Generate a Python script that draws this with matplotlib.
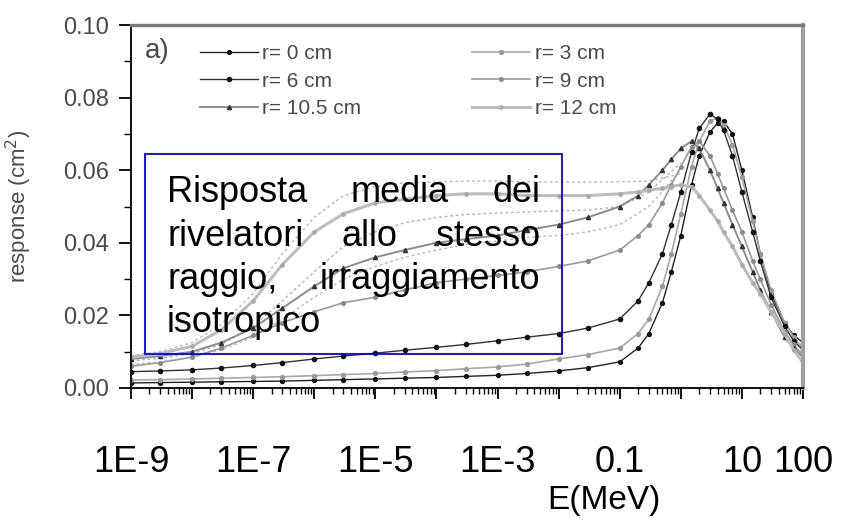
import matplotlib
matplotlib.use("Agg")
import matplotlib.pyplot as plt
from matplotlib.patches import Rectangle
from matplotlib.ticker import LogLocator, NullFormatter, MultipleLocator, FormatStrFormatter

# ---------------- data ----------------
energy = [1e-9, 3e-9, 1e-8, 3e-8, 1e-7, 3e-7, 1e-6, 3e-6, 1e-5, 3e-5, 1e-4, 3e-4,
          1e-3, 3e-3, 1e-2, 3e-2, 0.1, 0.2, 0.3, 0.5, 0.7, 1, 1.5, 2, 3, 4, 5, 7,
          10, 15, 20, 30, 50, 70, 100]

r0 = [0.0014, 0.0015, 0.0016, 0.0017, 0.0018, 0.0019, 0.0021, 0.0023, 0.0025, 0.0027, 0.0029, 0.0032,
      0.0035, 0.0040, 0.0047, 0.0056, 0.0072, 0.0110, 0.0150, 0.0235, 0.0320, 0.0420, 0.0560, 0.0640,
      0.0705, 0.0730, 0.0735, 0.0700, 0.0600, 0.0470, 0.0370, 0.0260, 0.0180, 0.0145, 0.0125]
r3 = [0.0022, 0.0023, 0.0025, 0.0027, 0.0029, 0.0031, 0.0034, 0.0037, 0.0040, 0.0044, 0.0048, 0.0053,
      0.0058, 0.0066, 0.0080, 0.0092, 0.0110, 0.0150, 0.0190, 0.0280, 0.0370, 0.0480, 0.0610, 0.0680,
      0.0735, 0.0745, 0.0725, 0.0670, 0.0580, 0.0460, 0.0370, 0.0270, 0.0180, 0.0140, 0.0110]
r6 = [0.0045, 0.0047, 0.0050, 0.0055, 0.0062, 0.0070, 0.0080, 0.0088, 0.0096, 0.0104, 0.0112, 0.0120,
      0.0130, 0.0140, 0.0150, 0.0165, 0.0190, 0.0240, 0.0290, 0.0370, 0.0450, 0.0540, 0.0650, 0.0715,
      0.0755, 0.0740, 0.0710, 0.0640, 0.0540, 0.0430, 0.0350, 0.0250, 0.0170, 0.0130, 0.0105]
r9 = [0.0060, 0.0070, 0.0085, 0.0110, 0.0145, 0.0180, 0.0210, 0.0235, 0.0250, 0.0270, 0.0290, 0.0300,
      0.0310, 0.0320, 0.0335, 0.0350, 0.0380, 0.0420, 0.0450, 0.0510, 0.0560, 0.0610, 0.0665, 0.0680,
      0.0640, 0.0590, 0.0550, 0.0490, 0.0430, 0.0350, 0.0300, 0.0230, 0.0155, 0.0120, 0.0090]
r105 = [0.0080, 0.0088, 0.0100, 0.0125, 0.0165, 0.0220, 0.0280, 0.0330, 0.0360, 0.0380, 0.0400, 0.0410,
        0.0420, 0.0435, 0.0450, 0.0470, 0.0500, 0.0530, 0.0560, 0.0600, 0.0630, 0.0660, 0.0680, 0.0660,
        0.0600, 0.0550, 0.0510, 0.0450, 0.0390, 0.0320, 0.0270, 0.0210, 0.0140, 0.0110, 0.0085]
r12 = [0.0085, 0.0095, 0.0115, 0.0160, 0.0240, 0.0340, 0.0430, 0.0480, 0.0510, 0.0520, 0.0530, 0.0535,
       0.0535, 0.0530, 0.0530, 0.0530, 0.0535, 0.0540, 0.0545, 0.0550, 0.0555, 0.0560, 0.0555, 0.0530,
       0.0490, 0.0460, 0.0430, 0.0390, 0.0340, 0.0290, 0.0260, 0.0210, 0.0150, 0.0105, 0.0070]

# faint dotted companion curves (no legend entry)
band_energy = [1e-9, 3e-9, 1e-8, 3e-8, 1e-7, 3e-7, 1e-6, 3e-6, 1e-5, 3e-5, 1e-4, 3e-4,
               1e-3, 3e-3, 1e-2, 3e-2, 0.1, 0.3, 1]
band_a = [0.0090, 0.0100, 0.0125, 0.0175, 0.0260, 0.0370, 0.0470, 0.0530, 0.0555, 0.0565, 0.0568, 0.0570,
          0.0570, 0.0568, 0.0567, 0.0567, 0.0568, 0.0570, 0.0590]
band_b = [0.0075, 0.0082, 0.0095, 0.0120, 0.0170, 0.0240, 0.0320, 0.0390, 0.0430, 0.0455, 0.0470, 0.0478,
          0.0482, 0.0485, 0.0488, 0.0490, 0.0500, 0.0540, 0.0620]
band_c = [0.0065, 0.0072, 0.0085, 0.0105, 0.0140, 0.0190, 0.0250, 0.0300, 0.0335, 0.0360, 0.0380, 0.0395,
          0.0405, 0.0415, 0.0420, 0.0430, 0.0450, 0.0500, 0.0600]

series_labels = ["r= 0 cm", "r= 3 cm", "r= 6 cm", "r= 9 cm", "r= 10.5 cm", "r= 12 cm"]

decade_ticks = [1e-9, 1e-8, 1e-7, 1e-6, 1e-5, 1e-4, 1e-3, 1e-2, 1e-1, 1, 10, 100]
decade_labels = ["1E-9", "", "1E-7", "", "1E-5", "", "1E-3", "", "0.1", "", "10", "100"]

box_lines = [["Risposta", "media", "dei"],
             ["rivelatori", "allo", "stesso"],
             ["raggio,", "irraggiamento"],
             ["isotropico"]]

# ---------------- figure ----------------
W, H = 846, 521
fig = plt.figure(figsize=(W / 100, H / 100), dpi=100)
ax = fig.add_axes([131 / W, 1 - 388 / H, 672 / W, 363 / H])

grey_txt = "#4a4a4a"

for x, y, c in [(band_energy, band_a, "#b8b8b8"), (band_energy, band_b, "#b0b0b0"), (band_energy, band_c, "#b8b8b8")]:
    ax.plot(x, y, color=c, lw=1.0, ls=(0, (2, 2)), zorder=1)

styles = {
    "r= 0 cm":    dict(color="#222222", lw=1.0, marker="o", ms=2.8, mfc="#111111", mec="#111111"),
    "r= 3 cm":    dict(color="#a8a8a8", lw=1.2, marker="o", ms=2.8, mfc="#9a9a9a", mec="#9a9a9a"),
    "r= 6 cm":    dict(color="#333333", lw=1.0, marker="o", ms=3.0, mfc="#111111", mec="#111111"),
    "r= 9 cm":    dict(color="#9a9a9a", lw=1.2, marker="o", ms=2.6, mfc="#8a8a8a", mec="#8a8a8a"),
    "r= 10.5 cm": dict(color="#8c8c8c", lw=1.4, marker="^", ms=3.0, mfc="#333333", mec="#333333"),
    "r= 12 cm":   dict(color="#bdbdbd", lw=2.2, marker="o", ms=2.4, mfc="#aaaaaa", mec="#aaaaaa"),
}
series = [r0, r3, r6, r9, r105, r12]
handles = {}
for lab, ys in zip(series_labels, series):
    h, = ax.plot(energy, ys, label=lab, zorder=2, **styles[lab])
    handles[lab] = h

ax.set_xscale("log")
ax.set_xlim(1e-9, 100)
ax.set_ylim(0, 0.10)

ax.set_xticks(decade_ticks)
ax.set_xticklabels(decade_labels)
ax.xaxis.set_minor_locator(LogLocator(base=10, subs=[2, 3, 4, 5, 6, 7, 8, 9], numticks=50))
ax.xaxis.set_minor_formatter(NullFormatter())
ax.tick_params(axis="x", which="major", direction="out", length=8, width=1.3, pad=33,
               labelsize=26, labelcolor="black", colors="black")
ax.tick_params(axis="x", which="minor", direction="out", length=4.5, width=1.0, colors="black")
for t in ax.get_xticklabels():
    t.set_fontfamily("Liberation Sans")

ax.yaxis.set_major_locator(MultipleLocator(0.02))
ax.yaxis.set_minor_locator(MultipleLocator(0.01))
ax.yaxis.set_major_formatter(FormatStrFormatter("%.2f"))
ax.tick_params(axis="y", which="major", direction="out", length=9, width=1.3, pad=7,
               labelsize=17, labelcolor=grey_txt, colors="black")
ax.tick_params(axis="y", which="minor", direction="out", length=5, width=1.0, colors="black")
for t in ax.get_yticklabels():
    t.set_fontfamily("Liberation Sans")

for s in ["left", "bottom"]:
    ax.spines[s].set_color("#111111")
    ax.spines[s].set_linewidth(1.4)
ax.spines["top"].set_color("#7a7a7a")
ax.spines["top"].set_linewidth(2.4)
ax.spines["right"].set_color("#a0a0a0")
ax.spines["right"].set_linewidth(3.0)

ax.set_ylabel("response (cm$^2$)", fontsize=16, color=grey_txt, family="Liberation Sans")
ax.yaxis.set_label_coords(-0.145, 0.5)
ax.set_xlabel("E(MeV)", fontsize=24, color="black", family="Liberation Sans")
ax.xaxis.set_label_coords(0.704, -0.268)

ax.text(145 / W, 1 - 51 / H, "a)", transform=fig.transFigure, fontsize=20, color=grey_txt,
        family="Liberation Sans", va="center", ha="left")

order = ["r= 0 cm", "r= 6 cm", "r= 10.5 cm", "r= 3 cm", "r= 9 cm", "r= 12 cm"]
leg = ax.legend([handles[k] for k in order], order, ncol=2, loc="upper left",
                bbox_to_anchor=(200 / W, 1 - 44 / H), bbox_transform=fig.transFigure,
                frameon=False, borderpad=0, borderaxespad=0, handlelength=2.8,
                handletextpad=0.2, columnspacing=5.3, labelspacing=0.42,
                prop={"family": "Liberation Sans", "size": 15})
for t in leg.get_texts():
    t.set_color(grey_txt)

# blue text box
fig.patches.append(Rectangle((145 / W, 1 - 354 / H), 417 / W, 200 / H, transform=fig.transFigure,
                             fill=False, edgecolor="#0000ff", linewidth=1.3, zorder=5))

renderer = fig.canvas.get_renderer()
x_left, x_right = 167, 540
baselines = [202, 245.5, 289, 332.5]
for words, base in zip(box_lines, baselines):
    texts = [fig.text(0, 1 - base / H, w, fontsize=26, family="Liberation Sans", color="black",
                      va="baseline", ha="left", zorder=6) for w in words]
    widths = [t.get_window_extent(renderer).width for t in texts]
    if len(words) == 1:
        texts[0].set_x(x_left / W)
        continue
    gap = (x_right - x_left - sum(widths)) / (len(words) - 1)
    xpos = x_left
    for t, wd in zip(texts, widths):
        t.set_x(xpos / W)
        xpos += wd + gap

fig.savefig("out.png", dpi=100)
